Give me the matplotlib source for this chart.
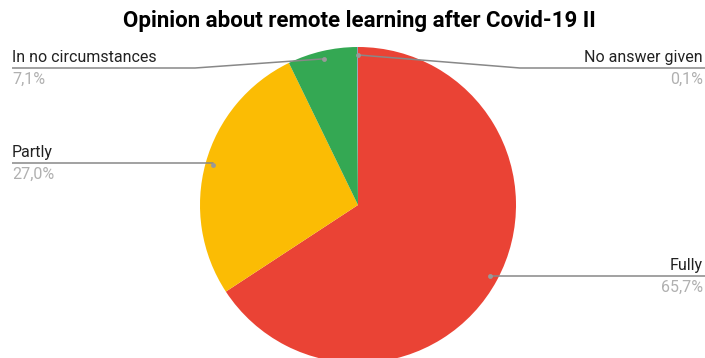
import numpy as np
import matplotlib.pyplot as plt

labels = ["Fully", "Partly", "In no circumstances", "No answer given"]
values = [65.7, 27.0, 7.1, 0.1]
pct_text = ["65,7%", "27,0%", "7,1%", "0,1%"]
colors = ["#ea4335", "#fbbc04", "#34a853", "#8f9bb3"]

plt.rcParams['font.family'] = ['Roboto', 'DejaVu Sans']

W, H = 705, 358
fig = plt.figure(figsize=(W / 100, H / 100), dpi=100)
ax = fig.add_axes([0, 0, 1, 1])

cx, cy, r = 358, 205, 158
# y axis is flipped, so counterclock=True draws clockwise on screen
ax.pie(values, colors=colors, startangle=-90, counterclock=True,
       center=(cx, cy), radius=r, frame=True,
       wedgeprops=dict(linewidth=0))
ax.set_xlim(0, W)
ax.set_ylim(H, 0)
ax.set_aspect('auto')
ax.axis('off')

ax.text(359, 21, "Opinion about remote learning after Covid-19 II",
        ha='center', va='center', fontsize=16, fontweight='bold', color='#000000')

# leader lines: (label y, side)
layout = {
    "Fully": (276, 'right'),
    "Partly": (163, 'left'),
    "In no circumstances": (68, 'left'),
    "No answer given": (68, 'right'),
}
total = sum(values)
start = 0.0
for lab, v, pt in zip(labels, values, pct_text):
    mid = (start + v / 2) / total * 2 * np.pi
    start += v
    dx = cx + 0.95 * r * np.sin(mid)
    dy = cy - 0.95 * r * np.cos(mid)
    ly, side = layout[lab]
    if side == 'left':
        xs = [12, 195 if lab == "In no circumstances" else dx, dx]
        tx, ha = 12, 'left'
    else:
        xs = [W, 520 if lab == "No answer given" else dx, dx]
        tx, ha = W - 2, 'right'
    ys = [ly, ly, dy]
    ax.plot(xs, ys, color='#888888', lw=1.1, solid_capstyle='butt')
    ax.plot([dx], [dy], 'o', color='#999999', ms=3.5, mec='none')
    ax.text(tx, ly - 3, lab, ha=ha, va='bottom', fontsize=11.5, color='#222222')
    ax.text(tx, ly + 4, pt, ha=ha, va='top', fontsize=11.5, color='#b0b0b0')

fig.savefig("out.png", dpi=100, facecolor='white')
